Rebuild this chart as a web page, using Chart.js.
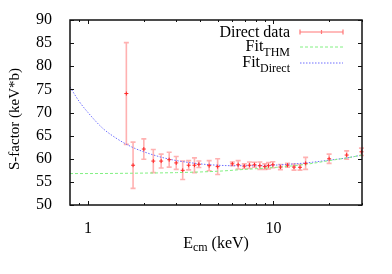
<!DOCTYPE html>
<html><head><meta charset="utf-8">
<script src="https://cdn.jsdelivr.net/npm/chart.js@4.4.1/dist/chart.umd.min.js"></script>
<style>html,body{margin:0;padding:0;background:#fff;}#wrap{width:392px;height:274px;position:relative}</style>
</head><body><div id="wrap"><canvas id="c" width="392" height="274"></canvas></div>
<script>
// Direct data (E_cm in keV, S-factor in keV*b, error)
const energies = [1.61, 1.75, 2.0, 2.25, 2.48, 2.74, 2.99, 3.24, 3.49, 3.75, 3.96, 4.5, 5.0, 6.0, 6.45, 6.96, 7.42, 7.9, 8.44, 8.98, 9.4, 9.92, 10.9, 11.9, 12.9, 13.9, 14.9, 19.95, 24.8, 29.8];
const sFactor  = [74.1, 58.6, 62.1, 59.5, 59.5, 59.8, 59.1, 57.5, 58.6, 58.6, 58.8, 58.5, 58.3, 58.9, 58.7, 58.4, 58.6, 58.7, 58.5, 58.3, 58.5, 58.7, 58.2, 58.6, 58.2, 58.15, 59.0, 60.0, 60.8, 61.5];
const sError   = [11, 5, 2.2, 2.5, 1.5, 1.6, 1.4, 2.0, 1.0, 1.6, 0.7, 1.1, 1.7, 0.4, 0.9, 0.5, 0.7, 0.55, 0.8, 0.6, 0.7, 0.65, 0.55, 0.4, 0.65, 0.6, 1.3, 1.0, 0.9, 0.8];
// Fit curves
const fitDirectE = [0.8, 0.9, 1.0, 1.2, 1.4, 1.6, 1.8, 2.0, 2.5, 3, 4, 5, 6, 8, 10, 12, 15, 20, 25, 30];
const fitDirectS = [75.5, 72.3, 70.0, 66.6, 64.6, 63.2, 62.2, 61.5, 60.3, 59.6, 58.9, 58.6, 58.5, 58.5, 58.6, 58.8, 59.1, 59.7, 60.2, 60.8];
const fitTHME = [0.8, 1, 2, 3, 5, 7, 10, 15, 20, 25, 30];
const fitTHMS = [56.8, 56.8, 56.9, 57.0, 57.3, 57.7, 58.1, 58.8, 59.6, 60.2, 60.8];
// Axes
const yTicks = [50, 55, 60, 65, 70, 75, 80, 85, 90];
const xMajorTicks = [1, 10];
const xMinorTicks = [0.9, 2, 3, 4, 5, 6, 7, 8, 9, 20, 30];
const xTickLabels = ['1', '10'];
const seriesNames = ['Direct data', 'Fit', 'Fit'];
const seriesSubs = ['', 'THM', 'Direct'];
const xTitle = ['E', 'cm', ' (keV)'];
const yTitle = 'S-factor (keV*b)';

const FONT = '"Liberation Serif", "Times New Roman", serif';
const RED_BAR = 'rgba(255,60,60,0.4)';
const RED_PT = 'rgb(255,40,40)';
const GREEN = 'rgb(130,240,130)';
const BLUE = 'rgb(110,110,255)';

const errPlugin = {
  id: 'errbars',
  beforeDatasetsDraw(chart) {
    const {ctx, scales: {x, y}} = chart;
    ctx.save();
    ctx.strokeStyle = RED_BAR;
    ctx.lineWidth = 1.6;
    energies.forEach((e, i) => {
      const px = x.getPixelForValue(e);
      const top = y.getPixelForValue(sFactor[i] + sError[i]);
      const bot = y.getPixelForValue(sFactor[i] - sError[i]);
      ctx.beginPath();
      ctx.moveTo(px, top); ctx.lineTo(px, bot);
      ctx.moveTo(px - 2.5, top); ctx.lineTo(px + 2.5, top);
      ctx.moveTo(px - 2.5, bot); ctx.lineTo(px + 2.5, bot);
      ctx.stroke();
    });
    ctx.restore();
  },
  afterDraw(chart) {
    const {ctx, chartArea: a, scales: {x, y}} = chart;
    ctx.save();
    // frame
    ctx.strokeStyle = '#111';
    ctx.lineWidth = 1.5;
    ctx.strokeRect(a.left, a.top, a.right - a.left, a.bottom - a.top);
    ctx.lineWidth = 1;
    ctx.beginPath();
    yTicks.forEach(v => {
      const py = Math.round(y.getPixelForValue(v)) + 0.5;
      ctx.moveTo(a.left, py); ctx.lineTo(a.left + 4, py);
      ctx.moveTo(a.right, py); ctx.lineTo(a.right - 4, py);
    });
    xMajorTicks.forEach(v => {
      const px = Math.round(x.getPixelForValue(v)) + 0.5;
      ctx.moveTo(px, a.bottom); ctx.lineTo(px, a.bottom - 4);
      ctx.moveTo(px, a.top); ctx.lineTo(px, a.top + 4);
    });
    xMinorTicks.forEach(v => {
      const px = Math.round(x.getPixelForValue(v)) + 0.5;
      ctx.moveTo(px, a.bottom); ctx.lineTo(px, a.bottom - 2);
      ctx.moveTo(px, a.top); ctx.lineTo(px, a.top + 2);
    });
    ctx.stroke();

    // titles
    ctx.fillStyle = '#000';
    ctx.textBaseline = 'alphabetic';
    ctx.font = '16px ' + FONT;
    const w0 = ctx.measureText(xTitle[0]).width;
    const w2 = ctx.measureText(xTitle[2]).width;
    ctx.font = '12px ' + FONT;
    const w1 = ctx.measureText(xTitle[1]).width;
    const cx = (a.left + a.right) / 2;
    let sx = cx - (w0 + w1 + w2) / 2;
    ctx.textAlign = 'left';
    ctx.font = '16px ' + FONT;
    ctx.fillText(xTitle[0], sx, 247.5);
    ctx.font = '12px ' + FONT;
    ctx.fillText(xTitle[1], sx + w0, 251);
    ctx.font = '16px ' + FONT;
    ctx.fillText(xTitle[2], sx + w0 + w1, 247.5);

    ctx.save();
    ctx.translate(15, 119);
    ctx.rotate(-Math.PI / 2);
    ctx.textAlign = 'center';
    ctx.textBaseline = 'middle';
    ctx.font = '15px ' + FONT;
    ctx.fillText(yTitle, 0, 0);
    ctx.restore();

    // legend
    const rows = [32, 47, 63];
    const tx = 290, l0 = 300, l1 = 343;
    rows.forEach((ly, i) => {
      ctx.textAlign = 'right';
      if (seriesSubs[i]) {
        ctx.font = '12px ' + FONT;
        const sw = ctx.measureText(seriesSubs[i]).width;
        ctx.fillText(seriesSubs[i], tx, ly + 8.5);
        ctx.font = '16px ' + FONT;
        ctx.fillText(seriesNames[i], tx - sw, ly + 4);
      } else {
        ctx.font = '16px ' + FONT;
        ctx.fillText(seriesNames[i], tx, ly + 4.5);
      }
    });
    // legend samples
    ctx.lineWidth = 1.2;
    ctx.strokeStyle = 'rgba(255,60,60,0.7)';
    ctx.beginPath();
    ctx.moveTo(l0, rows[0]); ctx.lineTo(l1, rows[0]);
    ctx.moveTo(l0, rows[0] - 2.5); ctx.lineTo(l0, rows[0] + 2.5);
    ctx.moveTo(l1, rows[0] - 2.5); ctx.lineTo(l1, rows[0] + 2.5);
    const mid = (l0 + l1) / 2;
    ctx.moveTo(mid, rows[0] - 2); ctx.lineTo(mid, rows[0] + 2);
    ctx.stroke();
    ctx.lineWidth = 1;
    ctx.setLineDash([3, 2]);
    ctx.strokeStyle = GREEN;
    ctx.beginPath(); ctx.moveTo(l0, rows[1]); ctx.lineTo(l1, rows[1]); ctx.stroke();
    ctx.setLineDash([1.5, 1.5]);
    ctx.strokeStyle = BLUE;
    ctx.beginPath(); ctx.moveTo(l0, rows[2]); ctx.lineTo(l1, rows[2]); ctx.stroke();
    ctx.restore();
  }
};

new Chart(document.getElementById('c'), {
  type: 'scatter',
  data: {
    datasets: [
      {
        label: 'Direct data',
        data: energies.map((e, i) => ({x: e, y: sFactor[i]})),
        pointStyle: 'cross', pointRadius: 2, borderColor: RED_PT, borderWidth: 1,
        backgroundColor: RED_PT, showLine: false, clip: false
      },
      {
        label: 'Fit THM',
        data: fitTHME.map((e, i) => ({x: e, y: fitTHMS[i]})),
        showLine: true, pointRadius: 0, borderColor: GREEN, borderWidth: 1,
        borderDash: [3, 2], cubicInterpolationMode: 'monotone', fill: false
      },
      {
        label: 'Fit Direct',
        data: fitDirectE.map((e, i) => ({x: e, y: fitDirectS[i]})),
        showLine: true, pointRadius: 0, borderColor: BLUE, borderWidth: 1,
        borderDash: [1.5, 1.5], cubicInterpolationMode: 'monotone', fill: false
      }
    ]
  },
  options: {
    responsive: false, animation: false, devicePixelRatio: 1,
    layout: {padding: {top: 20, right: 30, left: 0, bottom: 0}},
    plugins: {legend: {display: false}, tooltip: {enabled: false}},
    scales: {
      x: {
        type: 'logarithmic', min: 0.8, max: 30,
        afterBuildTicks: s => { s.ticks = xMajorTicks.concat(xMinorTicks).sort((a, b) => a - b).map(v => ({value: v})); },
        ticks: {
          autoSkip: false, maxRotation: 0, padding: 6, color: '#000',
          font: {family: FONT, size: 16},
          callback: v => { const k = xMajorTicks.indexOf(v); return k >= 0 ? xTickLabels[k] : ''; }
        },
        grid: {display: false}, border: {display: false},
        afterFit: s => { s.height = 69; }
      },
      y: {
        min: 50, max: 90,
        afterBuildTicks: s => { s.ticks = yTicks.map(v => ({value: v})); },
        ticks: {padding: 10, color: '#000', font: {family: FONT, size: 16}},
        grid: {display: false}, border: {display: false},
        afterFit: s => { s.width = 70; }
      }
    }
  },
  plugins: [errPlugin]
});
</script>
</body></html>
